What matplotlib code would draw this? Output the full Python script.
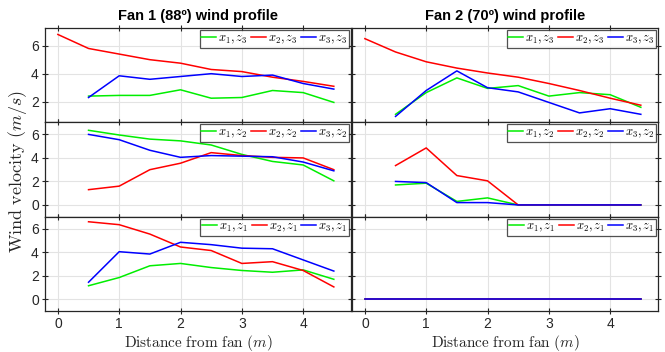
import numpy as np
import matplotlib
matplotlib.use("Agg")
import matplotlib.pyplot as plt

plt.rcParams["mathtext.fontset"] = "cm"
plt.rcParams["font.family"] = ["Liberation Sans", "DejaVu Sans"]

nan = np.nan
dist = [0, 0.5, 1.0, 1.5, 2.0, 2.5, 3.0, 3.5, 4.0, 4.5]

titles = ["Fan 1 (88º) wind profile", "Fan 2 (70º) wind profile"]
heights = ["z_3", "z_2", "z_1"]
series_names = ["x_1", "x_2", "x_3"]
series_colors = ["#00ee00", "#ff0000", "#0000ff"]

# Fan 1, one list per (height, probe line x1/x2/x3)
fan1_z3 = [
    [nan, 2.4, 2.45, 2.45, 2.85, 2.25, 2.3, 2.8, 2.65, 1.95],
    [6.8, 5.8, 5.4, 5.0, 4.75, 4.3, 4.15, 3.75, 3.45, 3.1],
    [nan, 2.3, 3.85, 3.6, 3.8, 4.0, 3.8, 3.9, 3.3, 2.9],
]
fan1_z2 = [
    [nan, 6.35, 5.95, 5.6, 5.45, 5.1, 4.3, 3.7, 3.4, 2.05],
    [nan, 1.3, 1.6, 3.0, 3.55, 4.45, 4.2, 4.05, 4.0, 3.0],
    [nan, 6.0, 5.55, 4.65, 4.05, 4.2, 4.15, 4.1, 3.65, 2.9],
]
fan1_z1 = [
    [nan, 1.15, 1.85, 2.85, 3.05, 2.7, 2.45, 2.3, 2.5, 1.7],
    [nan, 6.6, 6.35, 5.55, 4.45, 4.15, 3.05, 3.2, 2.45, 1.05],
    [nan, 1.45, 4.05, 3.85, 4.85, 4.65, 4.35, 4.3, 3.35, 2.4],
]

# Fan 2
fan2_z3 = [
    [nan, 1.1, 2.65, 3.7, 2.95, 3.15, 2.4, 2.65, 2.5, 1.6],
    [6.5, 5.55, 4.85, 4.4, 4.05, 3.75, 3.3, 2.8, 2.25, 1.75],
    [nan, 0.95, 2.8, 4.2, 3.0, 2.7, 1.95, 1.2, 1.5, 1.1],
]
fan2_z2 = [
    [nan, 1.7, 1.85, 0.3, 0.6, 0, 0, 0, 0, 0],
    [nan, 3.35, 4.85, 2.5, 2.05, 0, 0, 0, 0, 0],
    [nan, 2.0, 1.9, 0.2, 0.2, 0, 0, 0, 0, 0],
]
fan2_z1 = [
    [0, 0, 0, 0, 0, 0, 0, 0, 0, 0],
    [0, 0, 0, 0, 0, 0, 0, 0, 0, 0],
    [0, 0, 0, 0, 0, 0, 0, 0, 0, 0],
]

grid_data = [[fan1_z3, fan2_z3], [fan1_z2, fan2_z2], [fan1_z1, fan2_z1]]
ylims = [(0.53, 7.24), (-1, 7.03), (-1, 7.03)]
yticks = [[2, 4, 6], [0, 2, 4, 6], [0, 2, 4, 6]]

fig = plt.figure(figsize=(6.65, 3.52), dpi=100)
W, H = 665.0, 352.0
col_px = [(45, 351), (352, 658)]
row_px = [(28.3, 122.3), (122.3, 216.7), (216.7, 311.0)]
dark = "#262626"

for r in range(3):
    for c in range(2):
        x0, x1 = col_px[c]
        y0, y1 = row_px[r]
        ax = fig.add_axes([x0 / W, 1 - y1 / H, (x1 - x0) / W, (y1 - y0) / H])
        for k in range(3):
            ax.plot(dist, grid_data[r][c][k], color=series_colors[k], lw=1.1,
                    label=rf"${series_names[k]},{heights[r]}$")
        ax.set_xlim(-0.21, 4.78)
        ax.set_ylim(*ylims[r])
        ax.set_xticks([0, 1, 2, 3, 4])
        ax.set_yticks(yticks[r])
        ax.grid(True, color="#e3e3e3", lw=0.8)
        ax.set_axisbelow(True)
        for s in ax.spines.values():
            s.set_color(dark)
            s.set_linewidth(0.9)
        ax.tick_params(direction="inout", length=5, width=0.8, colors=dark,
                       top=True, right=True, labelsize=10, pad=2)
        if c == 1:
            ax.tick_params(labelleft=False)
        if r < 2:
            ax.tick_params(labelbottom=False)
        else:
            ax.set_xlabel(r"$\mathrm{Distance\ from\ fan}\ (m)$", fontsize=11,
                          color=dark, labelpad=1)
        if r == 0:
            ax.set_title(titles[c], fontsize=10.5, fontweight="bold", pad=6)
        leg = ax.legend(loc="upper right", ncol=3, fontsize=9, frameon=True,
                        fancybox=False, handlelength=1.2, handletextpad=0.15,
                        columnspacing=0.25, borderpad=0.15, borderaxespad=0.15)
        leg.get_frame().set_edgecolor(dark)
        leg.get_frame().set_linewidth(0.9)

fig.text(18 / W, 1 - 172 / H, r"$\mathrm{Wind\ velocity}\ (m/s)$", rotation=90,
         ha="center", va="center", fontsize=13, color=dark)

fig.savefig("out.png", dpi=100)
